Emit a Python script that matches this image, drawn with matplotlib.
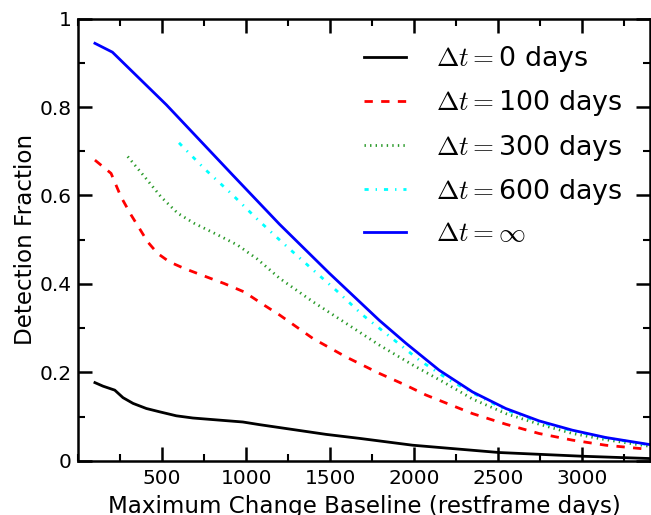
import matplotlib
matplotlib.use("Agg")
import matplotlib.pyplot as plt
from matplotlib.ticker import FixedLocator, MultipleLocator, FuncFormatter

plt.rcParams['mathtext.fontset'] = 'cm'
plt.rcParams['lines.scale_dashes'] = False
plt.rcParams['font.family'] = ['DejaVu Sans']

# ---- data ----
x_dt0 = [100, 148, 218, 267, 327, 406, 485, 584, 683, 782, 980, 1079, 1277, 1475, 1673, 1990, 2504, 3000, 3400]
y_dt0 = [0.177, 0.169, 0.160, 0.143, 0.130, 0.1185, 0.111, 0.102, 0.097, 0.094, 0.088, 0.082, 0.071, 0.060, 0.051, 0.0355, 0.019, 0.0106, 0.0054]

x_dt100 = [100, 196, 255, 315, 364, 414, 473, 543, 632, 750, 869, 988, 1107, 1198, 1396, 1594, 1791, 1950, 2069, 2148, 2346, 2544, 2742, 2940, 3138, 3400]
y_dt100 = [0.680, 0.650, 0.597, 0.556, 0.526, 0.495, 0.469, 0.450, 0.435, 0.418, 0.401, 0.382, 0.352, 0.330, 0.277, 0.235, 0.198, 0.171, 0.149, 0.137, 0.107, 0.083, 0.062, 0.047, 0.0355, 0.026]

x_dt300 = [295, 394, 493, 592, 691, 830, 948, 1067, 1198, 1396, 1594, 1791, 1990, 2188, 2346, 2544, 2742, 2940, 3138, 3400]
y_dt300 = [0.688, 0.643, 0.597, 0.560, 0.537, 0.511, 0.488, 0.456, 0.413, 0.360, 0.311, 0.262, 0.217, 0.175, 0.140, 0.107, 0.083, 0.062, 0.048, 0.033]

x_dt600 = [600, 750, 909, 1067, 1217, 1376, 1534, 1692, 1861, 2029, 2207, 2366, 2544, 2742, 2940, 3138, 3400]
y_dt600 = [0.719, 0.661, 0.605, 0.546, 0.493, 0.439, 0.386, 0.330, 0.279, 0.228, 0.183, 0.150, 0.115, 0.088, 0.068, 0.052, 0.036]

x_inf = [100, 204, 525, 920, 1198, 1495, 1791, 1950, 2148, 2346, 2544, 2742, 2940, 3138, 3400]
y_inf = [0.944, 0.924, 0.805, 0.646, 0.535, 0.424, 0.318, 0.266, 0.205, 0.156, 0.1185, 0.0905, 0.0695, 0.053, 0.037]

labels = [r'$\Delta t=$0 days', r'$\Delta t=$100 days', r'$\Delta t=$300 days',
          r'$\Delta t=$600 days', r'$\Delta t=\infty$']
x_ticks = [500, 1000, 1500, 2000, 2500, 3000]
y_ticks = [0, 0.2, 0.4, 0.6, 0.8, 1.0]

fig = plt.figure(figsize=(6.51, 5.15), dpi=100)
ax = fig.add_axes([0.12, 0.105, 0.878, 0.859])

lw = 2.0
ax.plot(x_dt0, y_dt0, color='black', lw=lw, ls='-', label=labels[0])
ax.plot(x_dt100, y_dt100, color='red', lw=lw, ls=(0, (6, 6)), label=labels[1])
ax.plot(x_dt300, y_dt300, color='#2a9a2a', lw=lw, ls=(0, (1, 3)), label=labels[2])
ax.plot(x_dt600, y_dt600, color='cyan', lw=lw, ls=(0, (3, 5, 1, 5)), label=labels[3])
ax.plot(x_inf, y_inf, color='blue', lw=lw, ls='-', label=labels[4])

ax.set_xlim(0, 3400)
ax.set_ylim(0, 1)
ax.xaxis.set_major_locator(FixedLocator(x_ticks))
ax.xaxis.set_minor_locator(MultipleLocator(250))
ax.yaxis.set_major_locator(FixedLocator(y_ticks))
ax.yaxis.set_minor_locator(MultipleLocator(0.1))
ax.yaxis.set_major_formatter(FuncFormatter(lambda v, p: '%g' % v))

ax.tick_params(which='both', direction='in', top=True, right=True, labelsize=14.5)
ax.tick_params(which='major', length=10, width=1.8)
ax.tick_params(which='minor', length=5, width=1.5)
ax.tick_params(axis='x', which='major', pad=6)
ax.tick_params(axis='y', which='major', pad=4.8)
for s in ax.spines.values():
    s.set_linewidth(1.8)

ax.set_xlabel('Maximum Change Baseline (restframe days)', fontsize=16.6, labelpad=5)
ax.set_ylabel('Detection Fraction', fontsize=16.6, labelpad=1.8)

ax.legend(loc='upper right', frameon=False, fontsize=19.4, handlelength=1.55,
          handletextpad=1.1, labelspacing=0.53, borderaxespad=0.3,
          bbox_to_anchor=(0.985, 0.985))

fig.savefig('out.png', dpi=100)
